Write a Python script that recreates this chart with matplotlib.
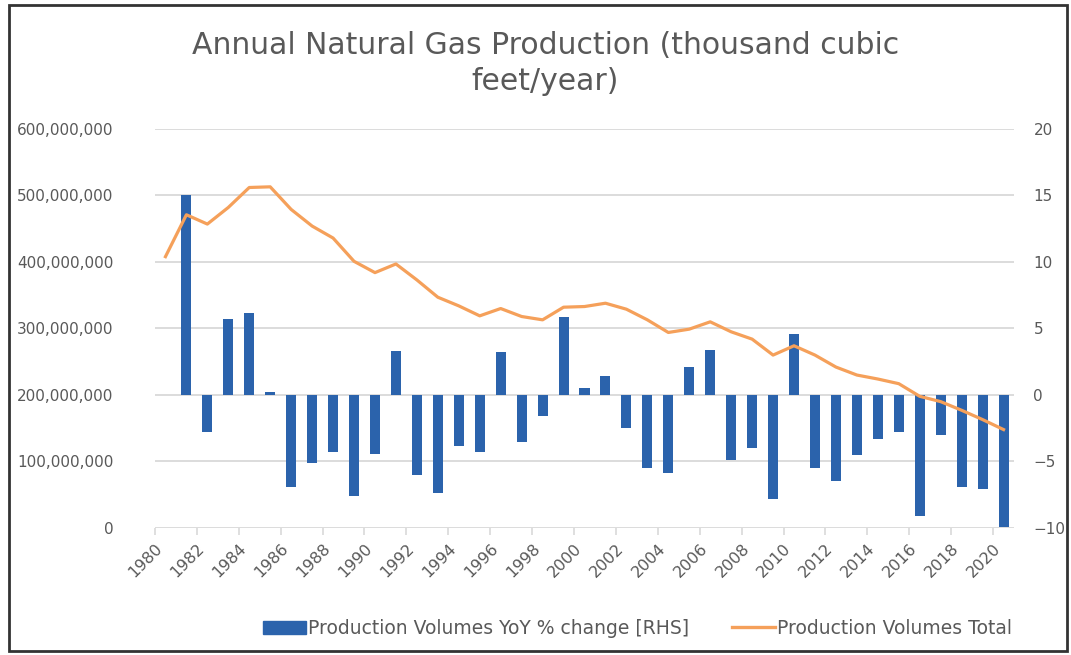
import matplotlib.pyplot as plt
import numpy as np
from matplotlib.patches import Rectangle
from matplotlib.ticker import FuncFormatter

years = list(range(1980, 2021))

total_volume = [
    408e6, 471e6, 457e6, 482e6, 512e6, 513e6, 479e6, 454e6, 436e6, 401e6,
    384e6, 397e6, 373e6, 347e6, 334e6, 319e6, 330e6, 318e6, 313e6, 332e6,
    333e6, 338e6, 329e6, 313e6, 294e6, 299e6, 310e6, 295e6, 284e6, 260e6,
    274e6, 260e6, 242e6, 230e6, 224e6, 217e6, 198e6, 190e6, 177e6, 163e6,
    148e6,
]

yoy_years = years[1:]
yoy_change = [
    15.0, -2.8, 5.7, 6.2, 0.2, -6.9, -5.1, -4.3, -7.6, -4.4,
    3.3, -6.0, -7.4, -3.8, -4.3, 3.2, -3.5, -1.6, 5.9, 0.5,
    1.4, -2.5, -5.5, -5.9, 2.1, 3.4, -4.9, -4.0, -7.8, 4.6,
    -5.5, -6.5, -4.5, -3.3, -2.8, -9.1, -3.0, -6.9, -7.1, -9.9,
]

title = "Annual Natural Gas Production (thousand cubic\nfeet/year)"
bar_label = "Production Volumes YoY % change [RHS]"
line_label = "Production Volumes Total"

blue = "#2b63ac"
orange = "#f5a05a"
text_grey = "#595959"
grid_grey = "#d9d9d9"

plt.rcParams["font.family"] = ["DejaVu Sans"]

fig = plt.figure(figsize=(10.71, 6.55), dpi=100)
ax = fig.add_axes([0.1447, 0.1939, 0.8021, 0.6092])
ax2 = ax.twinx()

# line on left axis, bars on right axis (bars drawn behind the line)
ax.set_zorder(2)
ax.patch.set_visible(False)

x_line = np.array(years) + 0.5
x_bar = np.array(yoy_years) + 0.5

ax2.bar(x_bar, yoy_change, width=0.48, color=blue, zorder=2)
ax.plot(x_line, total_volume, color=orange, lw=2.3, solid_joinstyle="round", zorder=3)

ax.set_xlim(1980, 2021)
ax.set_ylim(0, 600e6)
ax2.set_ylim(-10, 20)
ax.set_yticks(np.arange(0, 600e6 + 1, 100e6))
ax2.set_yticks(np.arange(-10, 21, 5))
ax.yaxis.set_major_formatter(FuncFormatter(lambda v, p: f"{v:,.0f}"))

ax.set_xticks(range(1980, 2021, 2))
ax.set_xticklabels([str(y) for y in range(1980, 2021, 2)], rotation=45,
                   ha="right", va="top", rotation_mode="anchor")

# gridlines on the right axis (same positions on both)
ax2.yaxis.grid(True, color=grid_grey, lw=1.3)
ax2.set_axisbelow(True)

for a in (ax, ax2):
    for s in a.spines.values():
        s.set_visible(False)
    a.tick_params(axis="y", length=0, labelsize=11, labelcolor=text_grey)
ax.tick_params(axis="y", pad=30)
ax2.tick_params(axis="y", pad=14)
ax.tick_params(axis="x", length=5, color=grid_grey, width=1.2,
               labelsize=11.5, labelcolor=text_grey, pad=4)
ax2.tick_params(axis="x", length=0)

fig.suptitle(title, x=0.509, y=0.953, fontsize=21.5, color=text_grey,
             linespacing=1.3)

handles = [
    plt.Rectangle((0, 0), 1, 1, color=blue),
    plt.Line2D([0], [0], color=orange, lw=2.4),
]
fig.legend(handles, [bar_label, line_label], loc="center",
           bbox_to_anchor=(0.595, 0.041), ncol=2, frameon=False,
           fontsize=13.5, labelcolor=text_grey, handlelength=2.3,
           handletextpad=0.1, columnspacing=2.3)

# outer frame
fig.patches.append(Rectangle((9 / 1071, 4 / 655), 1058 / 1071, 646 / 655,
                             transform=fig.transFigure, fill=False,
                             edgecolor="#333333", lw=2))

fig.savefig("out.png", dpi=100)
